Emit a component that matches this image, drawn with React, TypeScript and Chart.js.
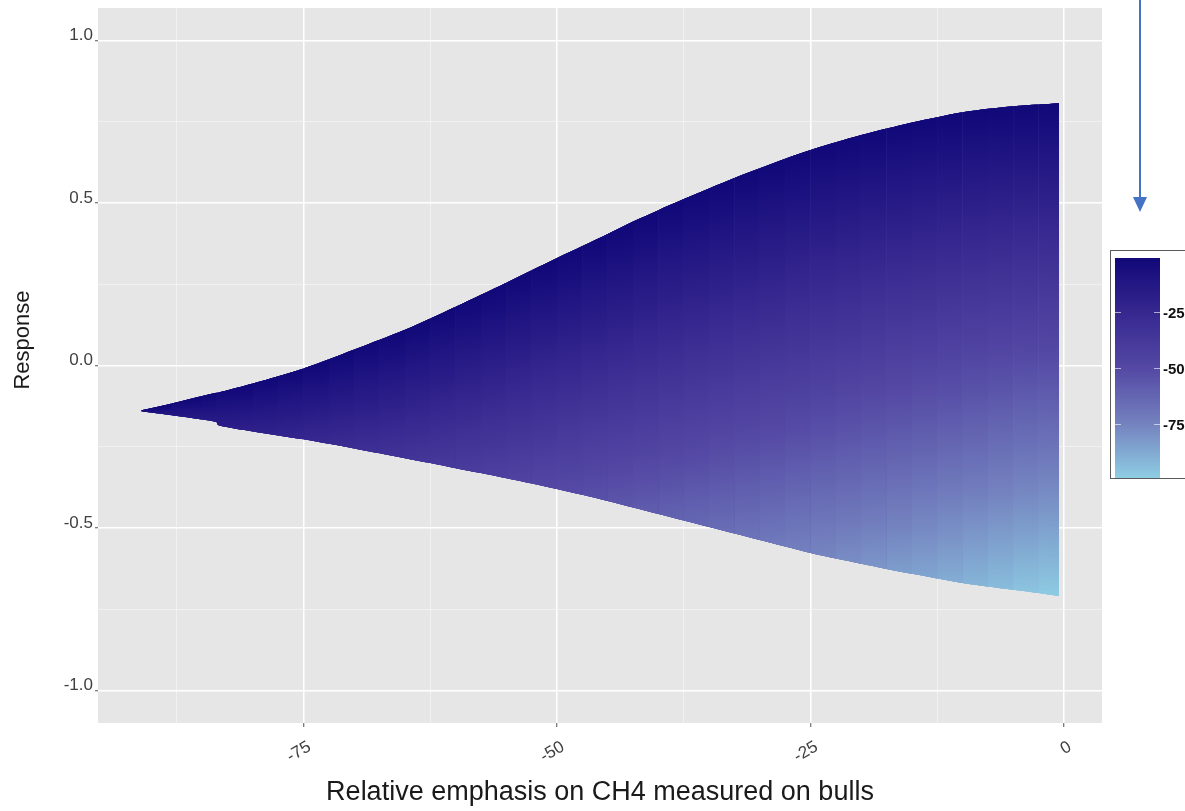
import React, { useEffect, useRef } from 'react';
import { Chart, registerables } from 'chart.js';

Chart.register(...registerables);

// ---- data ----
const emphasisCH4 = [-91, -88, -85, -83.6, -83.4, -80, -77.5, -75, -72.5, -70, -67.5, -65, -62.5, -60, -57.5, -55, -52.5, -50, -47.5, -45, -42.5, -40, -37.5, -35, -32.5, -30, -27.5, -25, -22.5, -20, -17.5, -15, -12.5, -10, -7.5, -5, -2.5, -0.5];
const responseUpper = [-0.138, -0.117, -0.094, -0.084, -0.083, -0.055, -0.033, -0.009, 0.019, 0.049, 0.079, 0.110, 0.145, 0.181, 0.218, 0.255, 0.293, 0.331, 0.368, 0.405, 0.443, 0.478, 0.512, 0.545, 0.577, 0.607, 0.636, 0.663, 0.687, 0.709, 0.729, 0.748, 0.764, 0.779, 0.790, 0.798, 0.803, 0.807];
const responseLower = [-0.141, -0.153, -0.166, -0.174, -0.184, -0.203, -0.215, -0.227, -0.241, -0.255, -0.270, -0.285, -0.300, -0.316, -0.331, -0.347, -0.363, -0.380, -0.398, -0.417, -0.437, -0.457, -0.477, -0.497, -0.517, -0.537, -0.557, -0.577, -0.594, -0.610, -0.626, -0.641, -0.655, -0.669, -0.680, -0.690, -0.700, -0.709];
const colourAtLower = [-9, -12, -15, -16, -17, -20, -22, -25, -27, -30, -32, -35, -37, -40, -42, -45, -47, -50, -52, -55, -57, -60, -62, -65, -67, -70, -72, -75, -77, -80, -82, -85, -87, -90, -92, -95, -97, -99];
const colourAtUpper = -1;

const xGridValues = [-87.5, -75, -62.5, -50, -37.5, -25, -12.5, 0];
const xMajorValues = [-75, -50, -25, 0];
const xTickLabels = ['-75', '-50', '-25', '0'];
const yGridValues = [-1, -0.75, -0.5, -0.25, 0, 0.25, 0.5, 0.75, 1];
const yMajorValues = [-1, -0.5, 0, 0.5, 1];
const yTickLabels = ['-1.0', '-0.5', '0.0', '0.5', '1.0'];

const legendStops = [-1, -25, -50, -75, -99];
const legendColours = ['#110879', '#36278f', '#5448a4', '#7482bf', '#8ecde3'];
const legendTicks = [-25, -50, -75];
const legendTickLabels = ['-25', '-50', '-75'];

const xTitle = 'Relative emphasis on CH4 measured on bulls';
const yTitle = 'Response';

// ---- helpers ----
function hexToRgb(h: string) {
  const n = parseInt(h.slice(1), 16);
  return [(n >> 16) & 255, (n >> 8) & 255, n & 255];
}
function mix(a: string, b: string, t: number) {
  const A = hexToRgb(a), B = hexToRgb(b);
  const c = A.map((v, i) => Math.round(v + (B[i] - v) * t));
  return `rgb(${c[0]},${c[1]},${c[2]})`;
}
function colourFor(v: number) {
  for (let i = 0; i < legendStops.length - 1; i++) {
    const a = legendStops[i], b = legendStops[i + 1];
    if (v <= a && v >= b) return mix(legendColours[i], legendColours[i + 1], (a - v) / (a - b));
  }
  return v > legendStops[0] ? legendColours[0] : legendColours[legendColours.length - 1];
}
const isIn = (arr: number[], v: number) => arr.some((a) => Math.abs(a - v) < 1e-9);

// each column between two samples gets a gradient from the upper colour to the lower colour,
// tilted so that its colour bands follow the mean slope of the two edges
const segmentFill = (ctx: any) => {
  const chart = ctx.chart;
  const xs = chart.scales.x, ys = chart.scales.y;
  const i0 = ctx.p0DataIndex, i1 = ctx.p1DataIndex;
  const x0 = xs.getPixelForValue(emphasisCH4[i0]);
  const x1 = xs.getPixelForValue(emphasisCH4[i1]);
  const t0 = ys.getPixelForValue(responseUpper[i0]), t1 = ys.getPixelForValue(responseUpper[i1]);
  const b0 = ys.getPixelForValue(responseLower[i0]), b1 = ys.getPixelForValue(responseLower[i1]);
  const xm = (x0 + x1) / 2;
  const top = (t0 + t1) / 2;
  let H = (b0 + b1) / 2 - top;
  if (H < 1) H = 1;
  const dx = Math.max(x1 - x0, 0.5);
  const s = ((t1 - t0) / dx + (b1 - b0) / dx) / 2;
  const k = H / (1 + s * s);
  const g = chart.ctx.createLinearGradient(xm, top, xm - s * k, top + k);
  const cBot = (colourAtLower[i0] + colourAtLower[i1]) / 2;
  const n = 10;
  for (let j = 0; j <= n; j++) {
    const t = j / n;
    g.addColorStop(t, colourFor(colourAtUpper + (cBot - colourAtUpper) * t));
  }
  return g;
};

// underlay that hides anti-aliasing seams between the column gradients
const baseFill = (ctx: any) => {
  const chart = ctx.chart;
  const xs = chart.scales?.x, ys = chart.scales?.y;
  if (!xs || !ys || !chart.chartArea) return colourFor(-40);
  const x0 = xs.getPixelForValue(emphasisCH4[0]);
  const x1 = xs.getPixelForValue(emphasisCH4[emphasisCH4.length - 1]);
  const y0 = ys.getPixelForValue(responseUpper[responseUpper.length - 1]);
  const y1 = ys.getPixelForValue(responseLower[responseLower.length - 1]);
  const g = chart.ctx.createLinearGradient(x0, y0, x1, y1);
  g.addColorStop(0, colourFor(-5));
  g.addColorStop(0.5, colourFor(-30));
  g.addColorStop(0.8, colourFor(-55));
  g.addColorStop(1, colourFor(-95));
  return g;
};

const FONT = '"Liberation Sans", Arial, sans-serif';

const decorPlugin = {
  id: 'decor',
  beforeDraw(chart: any) {
    const { ctx, chartArea: a } = chart;
    ctx.save();
    ctx.fillStyle = '#e6e6e6';
    ctx.fillRect(a.left, a.top, a.right - a.left, a.bottom - a.top);
    ctx.restore();
  },
  afterDraw(chart: any) {
    const { ctx } = chart;
    ctx.save();
    // y title
    ctx.translate(23, 340);
    ctx.rotate(-Math.PI / 2);
    ctx.font = `22px ${FONT}`;
    ctx.fillStyle = '#1a1a1a';
    ctx.textAlign = 'center';
    ctx.textBaseline = 'middle';
    ctx.fillText(yTitle, 0, 0);
    ctx.restore();

    // legend box
    ctx.save();
    ctx.fillStyle = '#ffffff';
    ctx.fillRect(1110, 250, 120, 229);
    ctx.strokeStyle = '#5a5a5a';
    ctx.lineWidth = 1;
    ctx.strokeRect(1110.5, 250.5, 120, 228);
    const barTop = 258, barBot = 478, barL = 1115, barR = 1160;
    const vTop = legendStops[0], vBot = legendStops[legendStops.length - 1];
    const g = ctx.createLinearGradient(0, barTop, 0, barBot);
    for (let k = 0; k <= 20; k++) {
      const t = k / 20;
      g.addColorStop(t, colourFor(vTop + (vBot - vTop) * t));
    }
    ctx.fillStyle = g;
    ctx.fillRect(barL, barTop, barR - barL, barBot - barTop);
    const yOf = (v: number) => barTop + ((vTop - v) / (vTop - vBot)) * (barBot - barTop);
    ctx.strokeStyle = 'rgba(255,255,255,0.6)';
    ctx.font = `bold 15px ${FONT}`;
    ctx.fillStyle = '#111111';
    ctx.textAlign = 'left';
    ctx.textBaseline = 'middle';
    legendTicks.forEach((v, i) => {
      const y = Math.round(yOf(v)) + 0.5;
      ctx.beginPath();
      ctx.moveTo(barL, y); ctx.lineTo(barL + 6, y);
      ctx.moveTo(barR - 6, y); ctx.lineTo(barR, y);
      ctx.stroke();
      ctx.fillText(legendTickLabels[i], 1163, y + 1);
    });
    ctx.restore();

    // arrow
    ctx.save();
    ctx.strokeStyle = '#4472c4';
    ctx.fillStyle = '#4472c4';
    ctx.lineWidth = 2;
    ctx.beginPath();
    ctx.moveTo(1140, 0); ctx.lineTo(1140, 199);
    ctx.stroke();
    ctx.beginPath();
    ctx.moveTo(1133, 197); ctx.lineTo(1147, 197); ctx.lineTo(1140, 212);
    ctx.closePath();
    ctx.fill();
    ctx.restore();
  },
};

export default function App() {
  const ref = useRef<HTMLCanvasElement | null>(null);
  useEffect(() => {
    if (!ref.current) return;
    const pts = (arr: number[]) => emphasisCH4.map((x, i) => ({ x, y: arr[i] }));
    const common = {
      borderWidth: 0,
      borderColor: 'rgba(0,0,0,0)',
      pointRadius: 0,
      tension: 0.3,
    };
    const band = {
      ...common,
      data: pts(responseUpper),
      fill: 4,
      backgroundColor: colourFor(-40),
      segment: { backgroundColor: segmentFill },
    };
    const chart = new Chart(ref.current, {
      type: 'line',
      data: {
        datasets: [
          { label: 'upper', ...band },
          { label: 'upper2', ...band },
          { label: 'upper3', ...band },
          { label: 'base', ...common, data: pts(responseUpper), fill: 4, backgroundColor: baseFill },
          { label: 'lower', ...common, data: pts(responseLower), fill: false },
        ],
      } as any,
      options: {
        animation: false,
        responsive: false,
        devicePixelRatio: 1,
        layout: { padding: { left: 0, right: 83, top: 8, bottom: 0 } },
        plugins: { legend: { display: false }, tooltip: { enabled: false } },
        events: [],
        scales: {
          x: {
            type: 'linear',
            min: -95.27,
            max: 3.75,
            afterBuildTicks: (s: any) => { s.ticks = xGridValues.map((v) => ({ value: v })); },
            afterFit: (s: any) => { s.height = 88; s.paddingLeft = 0; s.paddingRight = 0; },
            border: { display: false },
            grid: {
              color: (c: any) => (isIn(xMajorValues, c.tick?.value) ? '#ffffff' : '#f4f4f4'),
              lineWidth: (c: any) => (isIn(xMajorValues, c.tick?.value) ? 1.5 : 0.8),
              tickColor: (c: any) => (isIn(xMajorValues, c.tick?.value) ? '#555555' : 'rgba(0,0,0,0)'),
              tickLength: 4,
              tickWidth: 1,
            },
            ticks: {
              autoSkip: false,
              minRotation: 30,
              maxRotation: 30,
              padding: 10,
              labelOffset: 6,
              color: '#404040',
              font: { family: FONT, size: 17 },
              callback: (v: any) => {
                const i = xMajorValues.findIndex((m) => Math.abs(m - v) < 1e-9);
                return i >= 0 ? xTickLabels[i] : '';
              },
            },
            title: {
              display: true,
              text: xTitle,
              color: '#1a1a1a',
              font: { family: FONT, size: 27 },
              padding: { top: 0, bottom: 2 },
            },
          },
          y: {
            type: 'linear',
            min: -1.1,
            max: 1.1,
            afterBuildTicks: (s: any) => { s.ticks = yGridValues.map((v) => ({ value: v })); },
            afterFit: (s: any) => { s.width = 98; s.paddingTop = 0; s.paddingBottom = 0; },
            border: { display: false },
            grid: {
              color: (c: any) => (isIn(yMajorValues, c.tick?.value) ? '#ffffff' : '#f4f4f4'),
              lineWidth: (c: any) => (isIn(yMajorValues, c.tick?.value) ? 1.5 : 0.8),
              tickColor: (c: any) => (isIn(yMajorValues, c.tick?.value) ? '#555555' : 'rgba(0,0,0,0)'),
              tickLength: 3,
              tickWidth: 1,
            },
            ticks: {
              autoSkip: false,
              padding: 2,
              labelOffset: -5,
              color: '#404040',
              font: { family: FONT, size: 17 },
              callback: (v: any) => {
                const i = yMajorValues.findIndex((m) => Math.abs(m - v) < 1e-9);
                return i >= 0 ? yTickLabels[i] : '';
              },
            },
          },
        },
      } as any,
      plugins: [decorPlugin],
    });
    return () => chart.destroy();
  }, []);
  return (
    <div style={{ position: 'fixed', left: 0, top: 0, width: 1185, height: 811, background: '#ffffff' }}>
      <canvas ref={ref} width={1185} height={811} style={{ display: 'block', width: 1185, height: 811 }} />
    </div>
  );
}
